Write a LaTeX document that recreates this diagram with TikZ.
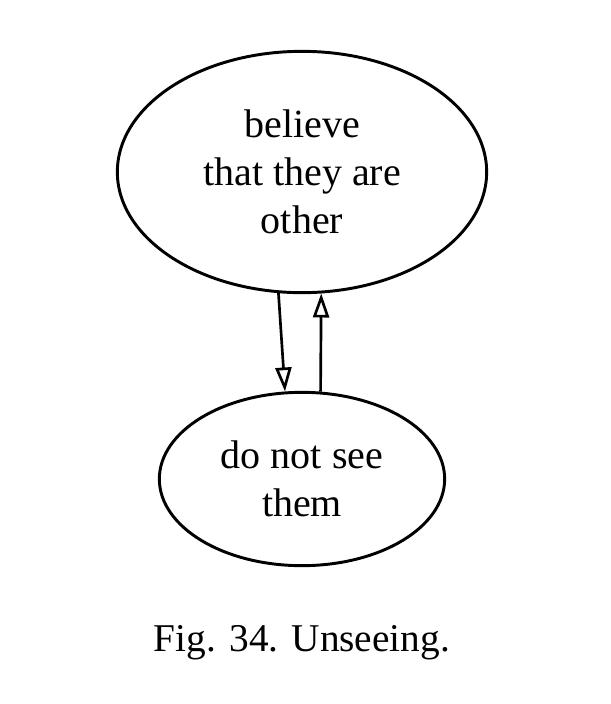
\documentclass[tikz,border=0pt]{standalone}
\usepackage{fontspec}
\setmainfont{Liberation Serif}
\usepackage{tikz}
\usetikzlibrary{shapes.geometric}
\usetikzlibrary{arrows.meta}
\tikzstyle{bubble} = [ellipse, draw=black, line width=2.2pt, inner sep=0pt, text centered, align=center, font=\fontsize{30}{36}\selectfont]
\tikzstyle{arrow} = [line width=2pt, -{Triangle[open, length=18pt, width=12pt]}]
\tikzstyle{caption} = [font=\fontsize{29.5}{36}\selectfont]

\begin{document}
\begin{tikzpicture}[x=0.75pt, y=-0.75pt]
            \useasboundingbox (0,0) rectangle (611,704);
            \node (believe) [bubble, minimum width=277pt, minimum height=181pt] at (302,172) {believe\\that they are\\other};
            \node (notsee) [bubble, minimum width=214pt, minimum height=130pt] at (302,479) {do not see\\them};
            \node (fig) [caption] at (302,643) {Fig. 34. Unseeing.};

            \draw[arrow] (believe.259) -- (notsee.101);
            \draw[arrow] (notsee.78) -- (believe.279);
        \end{tikzpicture}
\end{document}
